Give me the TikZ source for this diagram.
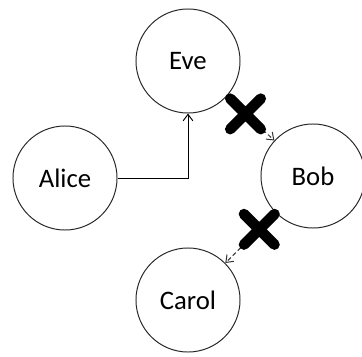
\documentclass[tikz,border=0pt]{standalone}
\usepackage{fontspec}
\setmainfont{Carlito}
\usepackage{tikz}
\usetikzlibrary{calc, arrows.meta, shapes.misc}

\begin{document}
\begin{tikzpicture}[x=0.025cm, y=-0.025cm]
			\tikzstyle{party} = [draw=black!85, line width=0.7pt, circle, minimum size=2.6cm, inner sep=0pt, font=\fontsize{19}{22}\selectfont]
			\tikzstyle{arrow} = [line width=0.7pt, -{Straight Barb[length=1.6mm, width=2.4mm]}]
			\tikzstyle{blocked} = [arrow, densely dashed, black!80]
			\tikzstyle{cut} = [draw, fill, cross out, line width=7.5pt, line cap=round, minimum size=0.5cm, inner sep=0pt]

			\useasboundingbox (0, 0) rectangle (362, 356);

			\node[party] at (65, 178)	(alice)	{Alice};
			\node[party] at (188, 61)	(eve)	{Eve};
			\node[party] at (313, 176)	(bob)	{Bob};
			\node[party] at (188, 300)	(carol)	{Carol};

			\draw [arrow] 	(alice) -| (eve);
			\draw [blocked] (eve) -- (bob);
			\draw [blocked] (bob) -- (carol);

			% blocked links
			\node[cut] at ($(eve)!0.46!(bob)$)		(cut1)	{};
			\node[cut] at ($(bob)!0.43!(carol)$)	(cut2)	{};
		\end{tikzpicture}
\end{document}
